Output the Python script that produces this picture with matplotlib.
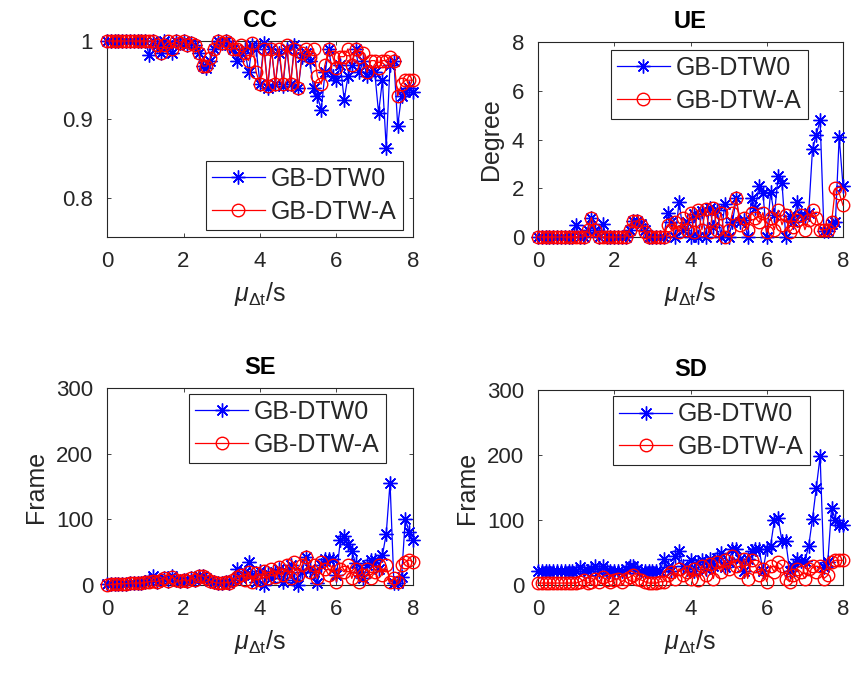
import matplotlib
matplotlib.use("Agg")
import matplotlib.pyplot as plt
from matplotlib.ticker import FuncFormatter

plt.rcParams['font.family'] = ['Liberation Sans', 'DejaVu Sans']
plt.rcParams['mathtext.fontset'] = 'custom'
plt.rcParams['mathtext.rm'] = 'Liberation Sans'
plt.rcParams['mathtext.it'] = 'Liberation Sans:italic'

mu = [0.0, 0.1, 0.2, 0.3, 0.4, 0.5, 0.6, 0.7, 0.8, 0.9,
      1.0, 1.1, 1.2, 1.3, 1.4, 1.5, 1.6, 1.7, 1.8, 1.9,
      2.0, 2.1, 2.2, 2.3, 2.4, 2.5, 2.6, 2.7, 2.8, 2.9,
      3.0, 3.1, 3.2, 3.3, 3.4, 3.5, 3.6, 3.7, 3.8, 3.9,
      4.0, 4.1, 4.2, 4.3, 4.4, 4.5, 4.6, 4.7, 4.8, 4.9,
      5.0, 5.1, 5.2, 5.3, 5.4, 5.5, 5.6, 5.7, 5.8, 5.9,
      6.0, 6.1, 6.2, 6.3, 6.4, 6.5, 6.6, 6.7, 6.8, 6.9,
      7.0, 7.1, 7.2, 7.3, 7.4, 7.5, 7.6, 7.7, 7.8, 7.9, 8.0]

cc_dtw0 = [1, 1, 1, 1, 1, 1, 1, 1, 1, 1,
           1.0, 0.982, 1.0, 0.995, 0.985, 1.0, 0.995, 0.985, 1.0, 0.998,
           1.0, 0.995, 0.998, 0.995, 0.985, 0.968, 0.966, 0.975, 0.99, 1.0,
           0.998, 1.0, 0.995, 0.99, 0.975, 0.985, 0.99, 0.96, 0.995, 0.99,
           0.945, 0.998, 0.94, 0.99, 0.945, 0.985, 0.943, 0.99, 0.945, 0.995,
           0.94, 0.98, 0.985, 0.975, 0.94, 0.93, 0.912, 0.96, 0.99, 0.955,
           0.95, 0.97, 0.925, 0.955, 0.97, 0.99, 0.96, 0.975, 0.955, 0.96,
           0.96, 0.908, 0.95, 0.864, 0.97, 0.975, 0.892, 0.93, 0.935, 0.94, 0.935]
cc_dtwa = [1, 1, 1, 1, 1, 1, 1, 1, 1, 1,
           1.0, 1.0, 1.0, 0.995, 0.985, 0.995, 1.0, 0.99, 1.0, 0.998,
           1.0, 0.995, 0.998, 0.995, 0.985, 0.968, 0.968, 0.978, 0.99, 1.0,
           0.998, 1.0, 0.998, 0.99, 0.99, 0.995, 0.985, 0.975, 0.998, 0.96,
           0.945, 0.99, 0.943, 0.99, 0.945, 0.99, 0.945, 0.995, 0.945, 0.99,
           0.94, 0.985, 0.99, 0.98, 0.99, 0.955, 0.945, 0.97, 0.99, 0.98,
           0.965, 0.98, 0.98, 0.99, 0.97, 0.99, 0.98, 0.985, 0.96, 0.975,
           0.975, 0.965, 0.975, 0.975, 0.98, 0.975, 0.93, 0.945, 0.95, 0.95, 0.95]

ue_dtw0 = [0, 0, 0, 0, 0, 0, 0, 0, 0, 0,
           0.5, 0, 0, 0.3, 0.8, 0.3, 0, 0.55, 0, 0,
           0, 0, 0, 0, 0.3, 0.65, 0.65, 0.55, 0.3, 0,
           0, 0, 0, 0, 1.0, 0.6, 0, 1.45, 0.3, 0.6,
           0, 0.95, 0, 1.05, 0, 1.2, 0.4, 1.1, 0, 1.35,
           0, 0.6, 1.6, 0.6, 0.7, 0, 1.6, 1.2, 2.1, 1.8,
           0, 1.85, 0.9, 2.5, 2.2, 0, 0.85, 0.6, 1.45, 0.9,
           0.85, 1.0, 3.6, 4.2, 4.8, 0.25, 0.25, 0.55, 0.6, 4.1, 2.1]
ue_dtwa = [0, 0, 0, 0, 0, 0, 0, 0, 0, 0,
           0, 0, 0, 0.3, 0.8, 0.3, 0, 0, 0, 0,
           0, 0, 0, 0, 0.3, 0.65, 0.65, 0.5, 0.2, 0,
           0, 0, 0, 0, 0.5, 0.3, 0.6, 0.2, 0.8, 0.3,
           1.0, 0.2, 1.1, 0.3, 1.15, 0.2, 1.2, 0.3, 1.0, 0,
           0.3, 1.0, 1.6, 0.5, 0.8, 0.3, 1.0, 0.8, 0.6, 1.0,
           0.2, 0.8, 0.3, 1.1, 0.5, 0.9, 0.2, 0.4, 0.7, 0.9,
           0.3, 0.7, 1.1, 0.8, 0.3, 0.3, 0.3, 0.6, 2.0, 1.8, 1.3]

se_dtw0 = [2, 2, 2, 2, 2, 2, 3, 3, 3, 3,
           5, 8, 14, 5, 8, 10, 6, 14, 8, 6,
           8, 6, 10, 8, 14, 14, 10, 6, 4, 3,
           3, 4, 3, 8, 25, 10, 20, 35, 15, 5,
           22, 0, 18, 10, 20, 25, 5, 20, 30, 8,
           0, 20, 43, 25, 20, 3, 30, 40, 40, 40,
           15, 68, 75, 62, 52, 33, 20, 10, 30, 38,
           38, 25, 45, 78, 156, 3, 3, 12, 101, 80, 68]
se_dtwa = [0, 1, 1, 2, 2, 2, 3, 3, 3, 3,
           4, 5, 6, 5, 8, 10, 6, 12, 8, 6,
           8, 6, 10, 8, 14, 14, 10, 6, 4, 3,
           3, 4, 3, 8, 12, 15, 8, 20, 5, 18,
           8, 22, 10, 25, 12, 28, 15, 30, 10, 35,
           15, 30, 43, 20, 30, 10, 35, 25, 15, 30,
           5, 25, 20, 30, 10, 25, 5, 15, 25, 10,
           20, 30, 15, 30, 5, 10, 5, 30, 35, 38, 35]

sd_dtw0 = [21, 21, 21, 21, 21, 21, 21, 21, 21, 21,
           21, 28, 22, 21, 25, 30, 22, 30, 22, 21,
           21, 22, 21, 25, 30, 30, 25, 22, 21, 21,
           21, 21, 21, 40, 28, 22, 45, 53, 30, 25,
           38, 22, 35, 38, 25, 40, 30, 42, 50, 28,
           35, 55, 55, 40, 22, 40, 53, 55, 55, 22,
           55, 60, 100, 103, 67, 67, 22, 30, 40, 37,
           37, 60, 102, 150, 198, 27, 35, 118, 100, 93, 93]
sd_dtwa = [3, 3, 3, 3, 3, 3, 3, 3, 3, 3,
           3, 5, 8, 3, 5, 10, 5, 12, 8, 5,
           8, 10, 5, 10, 12, 15, 10, 8, 5, 3,
           3, 3, 5, 5, 15, 20, 10, 25, 15, 20,
           10, 25, 8, 30, 15, 32, 10, 35, 20, 38,
           25, 45, 30, 20, 40, 10, 38, 30, 15, 25,
           5, 30, 20, 35, 30, 10, 5, 15, 25, 20,
           10, 25, 30, 20, 30, 10, 15, 35, 38, 38, 38]

series_names = ["GB-DTW0", "GB-DTW-A"]
titles = ["CC", "UE", "SE", "SD"]
ylabels = ["", "Degree", "Frame", "Frame"]
xticks = [0, 2, 4, 6, 8]

W, H = 851, 685
fig = plt.figure(figsize=(W / 100, H / 100), dpi=100)

def rect(l, r, t, b):
    return [l / W, 1 - b / H, (r - l) / W, (b - t) / H]

rects = [rect(107, 413, 41, 237), rect(538, 843, 42, 237),
         rect(107, 413, 388, 585), rect(538, 843, 390, 585)]
data = [(cc_dtw0, cc_dtwa), (ue_dtw0, ue_dtwa), (se_dtw0, se_dtwa), (sd_dtw0, sd_dtwa)]
ylims = [(0.75, 1.0), (0, 8), (0, 300), (0, 300)]
yticks = [[0.8, 0.9, 1.0], [0, 2, 4, 6, 8], [0, 100, 200, 300], [0, 100, 200, 300]]
legloc = ["lower right", "upper right", "upper right", "upper right"]
leganchor = [(0.967, 0.036), (0.885, 0.96), (0.912, 0.97), (0.892, 0.969)]

txtc = '#262626'
star = (8, 2, 0)

def fmt(v, p):
    return ('%g' % v)

for k in range(4):
    ax = fig.add_axes(rects[k])
    y0, ya = data[k]
    ax.plot(mu, y0, color='#0000ff', lw=0.9, marker=star, ms=10, mew=1.0,
            label=series_names[0], clip_on=False, zorder=3)
    ax.plot(mu, ya, color='#ff0000', lw=0.9, marker='o', ms=9, mfc='none', mew=1.0,
            label=series_names[1], clip_on=False, zorder=3)
    ax.set_xlim(0, 8)
    ax.set_ylim(*ylims[k])
    ax.set_xticks(xticks)
    ax.set_yticks(yticks[k])
    ax.yaxis.set_major_formatter(FuncFormatter(fmt))
    ax.tick_params(direction='in', length=3, width=0.6, top=True, right=True,
                   labelsize=16, colors=txtc, pad=10)
    for s in ax.spines.values():
        s.set_color('#262626')
        s.set_linewidth(0.8)
    ax.set_title(titles[k], fontsize=17, fontweight='bold', color='black', pad=10)
    ax.set_xlabel(r'$\mu_{\mathrm{\Delta t}}$/s', fontsize=18, color=txtc, labelpad=6)
    if ylabels[k]:
        ax.set_ylabel(ylabels[k], fontsize=18, color=txtc, labelpad=6)
    leg = ax.legend(loc=legloc[k], bbox_to_anchor=leganchor[k], borderaxespad=0,
                    fontsize=18, fancybox=False, framealpha=1,
                    edgecolor='#262626', handlelength=2.1, borderpad=0.25,
                    labelspacing=0.35, handletextpad=0.25)
    leg.get_frame().set_linewidth(0.8)
    for t in leg.get_texts():
        t.set_color(txtc)
    leg.set_zorder(5)

fig.savefig("out.png", dpi=100)
